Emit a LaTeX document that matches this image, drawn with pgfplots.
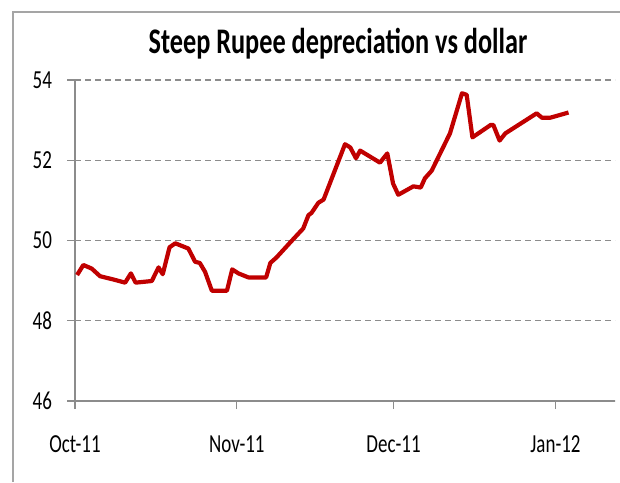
\documentclass[border=0pt]{standalone}
\usepackage{pgfplots}
\pgfplotsset{compat=1.18}
\usepackage{fontspec}
\setmainfont{Carlito}[FakeStretch=0.73]
\definecolor{linered}{RGB}{192,0,0}
\definecolor{framegray}{RGB}{165,165,165}
\definecolor{axgray}{RGB}{140,140,140}
\begin{document}
\begin{tikzpicture}[x=1pt,y=1pt]
\path[use as bounding box] (0,0) rectangle (310,241);
\draw[framegray, line width=0.9pt] (6.5,0) -- (6.5,235) -- (310,235);
\node[font=\bfseries\fontsize{18}{20}\selectfont] at (169,219) {Steep Rupee depreciation vs dollar};
\begin{axis}[at={(37.5pt,40.5pt)}, anchor=south west, scale only axis,
  width=270pt, height=160.5pt,
  xmin=0, xmax=103.4, ymin=46, ymax=54,
  ytick={46,48,...,54}, xtick={0,31,61,92},
  xticklabels={Oct-11,Nov-11,Dec-11,Jan-12},
  axis x line*=bottom, axis y line*=left,
  axis line style={draw=axgray, line width=0.7pt},
  tick align=outside, major tick length=4pt,
  tick style={draw=axgray, line width=0.6pt},
  ymajorgrids, grid style={dash pattern=on 3pt off 2pt, draw=axgray, line width=0.6pt},
  ticklabel style={font=\fontsize{13}{15}\selectfont},
  /pgf/number format/assume math mode=true,
  xticklabel style={yshift=-10pt},
  yticklabel style={xshift=-4pt},
  clip=false
]
\addplot[linered, line width=2.1pt, line join=round] coordinates {
(0.4,49.14) (1.6,49.39) (3.2,49.30) (4.8,49.11) (7.3,49.03) (9.6,48.95)
(10.7,49.18) (11.6,48.95) (14.7,48.99) (16.0,49.33) (16.8,49.16) (18.1,49.83)
(19.2,49.93) (21.7,49.80) (23.0,49.47) (23.9,49.44) (24.9,49.22) (26.2,48.75)
(29.1,48.75) (30.1,49.28) (31.3,49.18) (33.2,49.08) (36.6,49.08) (37.4,49.44)
(38.6,49.58) (41.2,49.95) (43.7,50.30) (44.7,50.63) (45.3,50.69) (46.6,50.94)
(47.6,51.02) (51.7,52.40) (52.7,52.32) (53.8,52.05) (54.6,52.24) (58.4,51.94)
(59.8,52.17) (60.9,51.42) (61.9,51.14) (64.8,51.35) (66.2,51.32) (67.0,51.55)
(68.3,51.74) (71.8,52.67) (74.1,53.67) (75.0,53.63) (76.1,52.57) (79.6,52.88)
(80.1,52.88) (81.3,52.49) (82.4,52.67) (88.4,53.17) (89.4,53.06) (91.0,53.06)
(94.5,53.19)
};
\end{axis}
\end{tikzpicture}
\end{document}
